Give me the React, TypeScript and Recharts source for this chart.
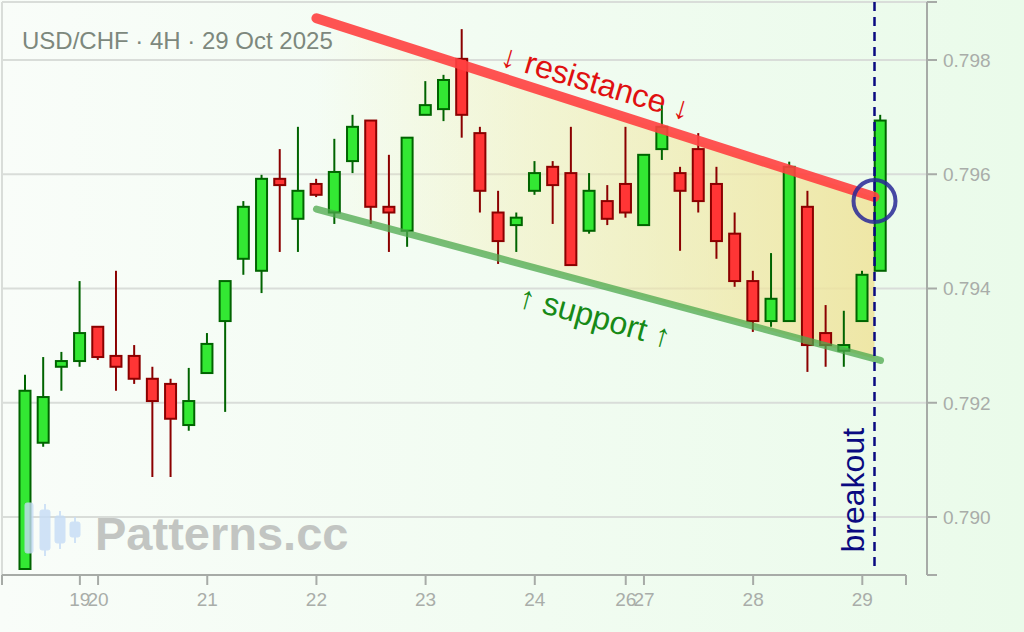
import {
	ComposedChart,
	Bar,
	Line,
	Area,
	XAxis,
	YAxis,
	CartesianGrid,
	ReferenceLine,
	ReferenceDot,
} from "recharts";

// USD/CHF 4H candles, 19–29 Oct 2025
const opens = [
	0.78909, 0.7913, 0.79263, 0.79273, 0.79333, 0.79282, 0.79282, 0.79242, 0.79233, 0.79161, 0.79252, 0.79343,
	0.79452, 0.79431, 0.79592, 0.79522, 0.79583, 0.79533, 0.79623, 0.79694, 0.79543, 0.79501, 0.79704, 0.79714,
	0.79802, 0.79672, 0.79533, 0.79511, 0.79571, 0.79613, 0.79602, 0.79501, 0.79553, 0.79583, 0.79511, 0.79644,
	0.79602, 0.79644, 0.79583, 0.79496, 0.79413, 0.79343, 0.79343, 0.79543, 0.79322, 0.79291, 0.79343, 0.79431,
];
const highs = [
	0.79249, 0.7928, 0.79289, 0.79413, 0.79333, 0.79431, 0.79301, 0.79263, 0.79242, 0.79261, 0.79322, 0.79413,
	0.79553, 0.79599, 0.79644, 0.79683, 0.79592, 0.79662, 0.79704, 0.79694, 0.79634, 0.79664, 0.79763, 0.79774,
	0.79854, 0.79683, 0.79571, 0.79533, 0.79623, 0.79623, 0.79683, 0.79602, 0.79581, 0.79683, 0.79634, 0.79721,
	0.79613, 0.79672, 0.79613, 0.79533, 0.79431, 0.79462, 0.79622, 0.79571, 0.79371, 0.79361, 0.79431, 0.79704,
];
const lows = [
	0.78908, 0.79123, 0.79221, 0.79263, 0.79275, 0.79221, 0.79233, 0.7907, 0.7907, 0.79151, 0.79252, 0.79184,
	0.79424, 0.79392, 0.79464, 0.79464, 0.7956, 0.79513, 0.79602, 0.79513, 0.79464, 0.79473, 0.79704, 0.79693,
	0.79664, 0.79533, 0.79443, 0.79464, 0.79564, 0.79513, 0.79441, 0.79496, 0.79511, 0.79524, 0.79511, 0.79625,
	0.79466, 0.79533, 0.79452, 0.79403, 0.79324, 0.79333, 0.79343, 0.79254, 0.79263, 0.79263, 0.79343, 0.79431,
];
const closes = [
	0.79221, 0.7921, 0.79273, 0.79322, 0.7928, 0.79263, 0.79242, 0.79203, 0.79172, 0.79203, 0.79303, 0.79413,
	0.79543, 0.79592, 0.79581, 0.79571, 0.79564, 0.79604, 0.79683, 0.79543, 0.79533, 0.79664, 0.79721, 0.79765,
	0.79704, 0.79571, 0.79483, 0.79524, 0.79602, 0.79581, 0.79441, 0.79571, 0.79522, 0.79533, 0.79634, 0.79683,
	0.79571, 0.79553, 0.79483, 0.79413, 0.79343, 0.79382, 0.79613, 0.79301, 0.79301, 0.79301, 0.79424, 0.79694,
];

// first bar of each day
const dayTicks = [3, 4, 10, 16, 22, 28, 33, 34, 40, 46];
const dayLabels = ["19", "20", "21", "22", "23", "24", "26", "27", "28", "29"];
const priceTicks = [0.79, 0.792, 0.794, 0.796, 0.798];

// channel lines (bar index, price)
const resistance = [
	{ x: 16, y: 0.79873 },
	{ x: 46.67, y: 0.7956 },
];
const support = [
	{ x: 16, y: 0.79539 },
	{ x: 47, y: 0.79274 },
];
const channel = [
	{ x: 16, band: [0.79539, 0.79873] },
	{ x: 46.67, band: [0.79277, 0.7956] },
];
const breakoutX = 46.67;
const breakoutPrice = 0.79553;

const X_MIN = -1.28;
const X_END = 48.4;
const X_MAX = 49.555;
const Y_MIN = 0.788985;
const Y_MAX = 0.799015;

const candles = opens.map((open, i) => ({
	x: i,
	open,
	high: highs[i],
	low: lows[i],
	close: closes[i],
}));

const FONT = '"Liberation Sans", Arial, Helvetica, sans-serif';
const AXIS = "#a7aba7";

const Candle = (props: any) => {
	const { x, y, width, height, payload } = props;
	const { open, high, low, close } = payload;
	const cx = x + width / 2;
	const h = Math.abs(height);
	const top = Math.min(y, y + height);
	const py = (p: number) => top + ((high - p) / (high - low)) * h;
	const up = close >= open;
	const bodyTop = py(Math.max(open, close));
	const bodyH = Math.max(py(Math.min(open, close)) - bodyTop, 1);
	const stroke = up ? "#006400" : "#8b0000";
	const fill = up ? "#33e833" : "#ff3535";
	return (
		<g>
			<line x1={cx} x2={cx} y1={py(high)} y2={py(low)} stroke={stroke} strokeWidth={2} />
			<rect x={cx - 5.5} y={bodyTop} width={11} height={bodyH} fill={fill} stroke={stroke} strokeWidth={2} />
		</g>
	);
};

const rotatedText = (text: string, color: string, angle: number) => (props: any) => (
	<text
		x={props.cx}
		y={props.cy}
		transform={`rotate(${angle} ${props.cx} ${props.cy})`}
		textAnchor="middle"
		dominantBaseline="central"
		fontSize={32}
		fill={color}
		fontFamily={FONT}
	>
		{text}
	</text>
);

const App = () => {
	return (
		<div
			style={{
				position: "fixed",
				left: 0,
				top: 0,
				width: 1024,
				height: 632,
				background: "linear-gradient(to right, #f9fdf9, #eafbea)",
				fontFamily: FONT,
			}}
		>
			<ComposedChart width={1024} height={632} data={candles} margin={{ top: 2, right: 0, bottom: 0, left: 2 }}>
				<defs>
					<linearGradient id="chanFill" x1="0" y1="0" x2="1" y2="0">
						<stop offset="0%" stopColor="#f5eba8" stopOpacity={0} />
						<stop offset="35%" stopColor="#f3e9a4" stopOpacity={0.35} />
						<stop offset="100%" stopColor="#efe39a" stopOpacity={0.85} />
					</linearGradient>
				</defs>
				<CartesianGrid
					horizontalValues={[...priceTicks, Y_MAX]}
					verticalValues={[X_MIN]}
					stroke="#d9ddd9"
					strokeWidth={2}
				/>
				<XAxis
					type="number"
					dataKey="x"
					domain={[X_MIN, X_MAX]}
					allowDataOverflow
					ticks={[X_MIN, ...dayTicks, X_END]}
					interval={0}
					tickFormatter={(v: number) => {
						const k = dayTicks.indexOf(v);
						return k >= 0 ? dayLabels[k] : "";
					}}
					axisLine={false}
					tickLine={{ stroke: AXIS, strokeWidth: 2 }}
					tickSize={10}
					tickMargin={8}
					tick={{ fontSize: 19, fill: "#a9ada9" }}
					height={57}
				/>
				<YAxis
					orientation="right"
					type="number"
					domain={[Y_MIN, Y_MAX]}
					allowDataOverflow
					ticks={[Y_MIN, ...priceTicks, Y_MAX]}
					interval={0}
					tickFormatter={(v: number) => (priceTicks.includes(v) ? v.toFixed(3) : "")}
					axisLine={{ stroke: AXIS, strokeWidth: 2 }}
					tickLine={{ stroke: AXIS, strokeWidth: 2 }}
					tickSize={10}
					tickMargin={6}
					tick={{ fontSize: 19, fill: "#a9ada9" }}
					width={97}
				/>
				<ReferenceLine
					segment={[
						{ x: X_MIN, y: Y_MIN },
						{ x: X_END, y: Y_MIN },
					]}
					stroke={AXIS}
					strokeWidth={2}
				/>
				<Area
					data={channel}
					dataKey="band"
					type="linear"
					stroke="none"
					fill="url(#chanFill)"
					fillOpacity={1}
					isAnimationActive={false}
				/>
				<Line
					data={support}
					dataKey="y"
					type="linear"
					stroke="rgba(76,168,76,0.75)"
					strokeWidth={7}
					strokeLinecap="round"
					dot={false}
					activeDot={false}
					isAnimationActive={false}
				/>
				<Line
					data={resistance}
					dataKey="y"
					type="linear"
					stroke="rgba(255,64,64,0.9)"
					strokeWidth={10}
					strokeLinecap="round"
					dot={false}
					activeDot={false}
					isAnimationActive={false}
				/>
				<Bar
					dataKey={(d: any) => [d.low, d.high]}
					barSize={13}
					shape={Candle}
					isAnimationActive={false}
				/>
				<ReferenceLine
					segment={[
						{ x: breakoutX, y: Y_MAX },
						{ x: breakoutX, y: 0.78907 },
					]}
					stroke="#0a0a80"
					strokeWidth={2.5}
					strokeDasharray="9 6"
				/>
				<ReferenceDot
					x={breakoutX}
					y={breakoutPrice}
					r={21}
					fill="none"
					stroke="rgba(40,40,150,0.85)"
					strokeWidth={4}
				/>
				<ReferenceDot x={31.35} y={0.79761} r={0} shape={rotatedText("↓ resistance ↓", "#e01010", 16.5)} />
				<ReferenceDot x={31.31} y={0.79351} r={0} shape={rotatedText("↑ support ↑", "#178a17", 15.5)} />
				<ReferenceDot x={45.49} y={0.79047} r={0} shape={rotatedText("breakout", "#0a0a80", -90)} />
			</ComposedChart>
			<svg
				width={1024}
				height={632}
				style={{ position: "absolute", left: 0, top: 0, pointerEvents: "none" }}
			>
				<text x={22} y={49} fontSize={24} fill="#7d887d" fontFamily={FONT}>
					USD/CHF · 4H · 29 Oct 2025
				</text>
				<g fill="#c6dcf6" stroke="#c6dcf6" opacity={0.8}>
					<rect x={25} y={503} width={8} height={50} rx={2} />
					<line x1={45} x2={45} y1={504} y2={556} strokeWidth={2} />
					<rect x={40} y={510} width={10} height={40} rx={2} />
					<line x1={60} x2={60} y1={511} y2={549} strokeWidth={2} />
					<rect x={55} y={516} width={10} height={27} rx={2} />
					<line x1={75} x2={75} y1={517} y2={543} strokeWidth={2} />
					<rect x={70} y={522} width={10} height={15} rx={2} />
				</g>
				<text x={95} y={550} fontSize={47} fontWeight="bold" fill="#c2c5c2" fontFamily={FONT}>
					Patterns.cc
				</text>
			</svg>
		</div>
	);
};

export default App;
